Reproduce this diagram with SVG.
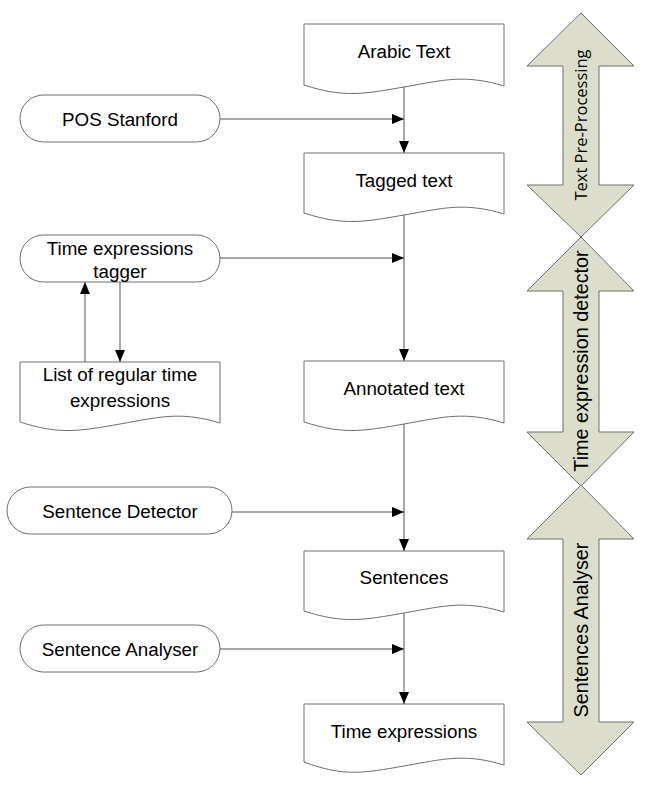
<svg xmlns="http://www.w3.org/2000/svg" width="653" height="802" viewBox="0 0 653 802">
<defs>
<marker id="ah" viewBox="0 0 12 10" refX="12" refY="5" markerWidth="12" markerHeight="10" markerUnits="userSpaceOnUse" orient="auto">
<path d="M0,0 L12,5 L0,10 Z" fill="#000"/>
</marker>
<style>
.doc{fill:#fff;stroke:#6e6e6e;stroke-width:1}
.term{fill:#fff;stroke:#6e6e6e;stroke-width:1}
.band{fill:#dcdecb;stroke:#6e6e6e;stroke-width:1}
.t{font-family:"Liberation Sans",Arial,sans-serif;font-size:18.8px;fill:#000;text-anchor:middle}
.tb{font-family:"Liberation Sans",Arial,sans-serif;font-size:19.8px;fill:#000;text-anchor:middle}
.tc{font-family:"Open Sans","Noto Sans",sans-serif;font-size:16.5px;fill:#000;text-anchor:middle}
.c{fill:none;stroke:#555;stroke-width:1;marker-end:url(#ah)}
</style>
</defs>
<rect width="653" height="802" fill="#fff"/>

<g id="band-preprocessing">
<polygon class="band" points="581,13 634,66 599,66 599,185 634,185 581,237 527,185 563,185 563,66 527,66"/>
<text class="tc" transform="translate(581,125) rotate(-90)" dy="6">Text Pre-Processing</text>
</g>
<g id="band-detector">
<polygon class="band" points="581,237 634,291 599,291 599,432 634,432 581,486 527,432 563,432 563,291 527,291"/>
<text class="tb" transform="translate(581,361) rotate(-90)" dy="7">Time expression detector</text>
</g>
<g id="band-analyser">
<polygon class="band" points="581,485 634,539 599,539 599,722 634,722 581,775 527,722 563,722 563,539 527,539"/>
<text class="tb" transform="translate(581,630) rotate(-90)" dy="7">Sentences Analyser</text>
</g>

<g id="connectors">
<line class="c" x1="404" y1="87" x2="404" y2="153"/>
<line class="c" x1="220" y1="119" x2="404" y2="119"/>
<line class="c" x1="404" y1="215" x2="404" y2="361"/>
<line class="c" x1="220" y1="258" x2="404" y2="258"/>
<line class="c" x1="85" y1="362" x2="85" y2="282"/>
<line class="c" x1="120" y1="282" x2="120" y2="362"/>
<line class="c" x1="404" y1="424" x2="404" y2="551"/>
<line class="c" x1="232" y1="512" x2="404" y2="512"/>
<line class="c" x1="404" y1="613" x2="404" y2="704"/>
<line class="c" x1="220" y1="649" x2="404" y2="649"/>
</g>

<g id="arabic-text">
<path class="doc" d="M304,24 H504 V86 C464,74 444,80 404,87 C364,94 344,98 304,85 Z"/>
<text class="t" x="404" y="58">Arabic Text</text>
</g>
<g id="tagged-text">
<path class="doc" d="M304,153 H504 V214 C464,202 444,208 404,215 C364,222 344,226 304,213 Z"/>
<text class="t" x="404" y="187">Tagged text</text>
</g>
<g id="annotated-text">
<path class="doc" d="M304,361 H504 V423 C464,411 444,417 404,424 C364,431 344,435 304,422 Z"/>
<text class="t" x="404" y="395">Annotated text</text>
</g>
<g id="sentences">
<path class="doc" d="M304,551 H504 V612 C464,600 444,606 404,613 C364,620 344,624 304,611 Z"/>
<text class="t" x="404" y="584">Sentences</text>
</g>
<g id="time-expressions">
<path class="doc" d="M304,704 H504 V765 C464,753 444,759 404,766 C364,773 344,777 304,762 Z"/>
<text class="t" x="404" y="738">Time expressions</text>
</g>
<g id="list-regular">
<path class="doc" d="M20,362 H220 V423 C180,411 160,417 120,424 C80,431 60,435 20,422 Z"/>
<text class="t" x="120" y="381">List of regular time</text>
<text class="t" x="120" y="407">expressions</text>
</g>

<g id="pos-stanford">
<rect class="term" x="20" y="95" width="200" height="47" rx="23.5"/>
<text class="t" x="120" y="125.5">POS Stanford</text>
</g>
<g id="time-tagger">
<rect class="term" x="20" y="235" width="200" height="47" rx="23.5"/>
<text class="t" x="120" y="254.5">Time expressions</text>
<text class="t" x="120" y="277.5">tagger</text>
</g>
<g id="sentence-detector">
<rect class="term" x="7" y="487" width="225" height="47" rx="23.5"/>
<text class="t" x="120" y="518">Sentence Detector</text>
</g>
<g id="sentence-analyser">
<rect class="term" x="20" y="625" width="200" height="47" rx="23.5"/>
<text class="t" x="120" y="655.5">Sentence Analyser</text>
</g>
</svg>
